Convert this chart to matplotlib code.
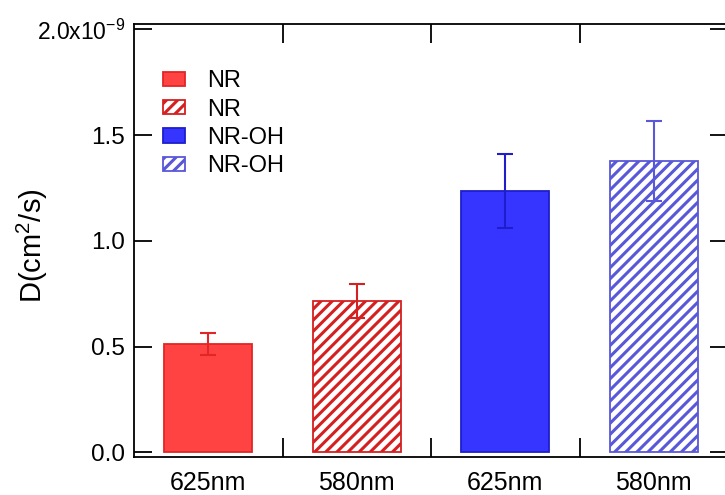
import matplotlib
matplotlib.use("Agg")
import matplotlib.pyplot as plt
from matplotlib.ticker import FixedLocator, FuncFormatter

plt.rcParams['font.family'] = ['Liberation Sans', 'DejaVu Sans']
plt.rcParams['mathtext.fontset'] = 'custom'
plt.rcParams['mathtext.rm'] = 'Liberation Sans'
plt.rcParams['hatch.linewidth'] = 2.2

# Diffusion coefficients (units of 1e-9 cm^2/s)
categories = ["625nm", "580nm", "625nm", "580nm"]
series = ["NR", "NR", "NR-OH", "NR-OH"]
values = [0.515, 0.718, 1.235, 1.378]
errors = [0.052, 0.080, 0.175, 0.190]

face_colors = ["#FF4242", "white", "#3535FF", "white"]
edge_colors = ["#E02626", "#D42020", "#1E1ECC", "#5858D8"]
hatches = [None, "///", None, "///"]

fig = plt.figure(figsize=(7.25, 4.95), dpi=100)
ax = fig.add_axes([134 / 725, 1 - 456.7 / 495, (728 - 134) / 725, (456.7 - 24.3) / 495])

x = list(range(len(values)))
for xi, v, e, fc, ec, h, lab in zip(x, values, errors, face_colors, edge_colors, hatches, series):
    ax.bar(xi, v, width=0.59, color=fc, edgecolor=ec, hatch=h, linewidth=1.3, label=lab, zorder=2)
    ax.errorbar(xi, v, yerr=e, fmt='none', ecolor=ec, elinewidth=1.5, capsize=6, capthick=1.5, zorder=3)

ax.set_xlim(-0.5, 3.5)
ax.set_ylim(-0.02, 2.024)

# category labels without ticks; tick marks at category boundaries
ax.set_xticks(x)
ax.set_xticklabels(categories, fontsize=18)
ax.xaxis.set_minor_locator(FixedLocator([0.5, 1.5, 2.5]))
ax.tick_params(axis='x', which='major', length=0, pad=10)
ax.tick_params(axis='x', which='minor', direction='in', length=14, width=1.3, top=True, bottom=True)

yticks = [0.0, 0.5, 1.0, 1.5, 2.0]
ax.set_yticks(yticks)


def ytick_fmt(v, pos):
    if abs(v - 2.0) < 1e-9:
        return r"2.0x10$^{\mathregular{-9}}$"
    return f"{v:.1f}"


ax.yaxis.set_major_formatter(FuncFormatter(ytick_fmt))
ax.tick_params(axis='y', which='major', direction='in', length=13, width=1.3,
               left=True, right=True, labelsize=17.5, pad=6.5)
ax.get_yticklabels()[-1].set_fontsize(16.5)

for s in ax.spines.values():
    s.set_linewidth(1.3)

ax.set_ylabel(r"D(cm$^{\mathregular{2}}$/s)", fontsize=21)
ax.yaxis.set_label_coords(-0.142, 0.487)

ax.legend(loc='upper left', bbox_to_anchor=(0.0488, 0.894), frameon=False, fontsize=17,
          borderpad=0, borderaxespad=0, handlelength=0.93, handleheight=0.55,
          handletextpad=0.93, labelspacing=0.27)

fig.savefig("out.png", dpi=100)
